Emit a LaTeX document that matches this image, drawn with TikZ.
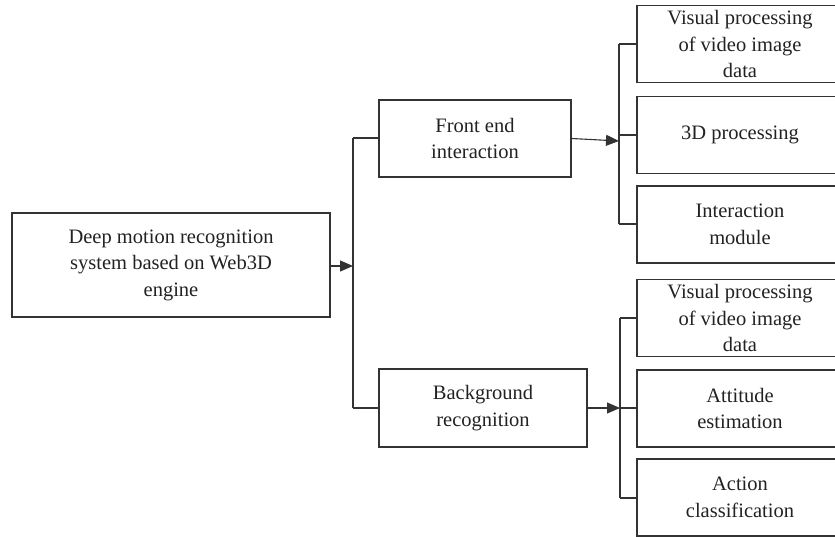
\documentclass[tikz,border=0pt]{standalone}
\usepackage{fontspec}
\setmainfont{Liberation Serif}
\usetikzlibrary{arrows.meta}
\definecolor{ink}{HTML}{333333}
\definecolor{txt}{HTML}{222222}
\begin{document}
\begin{tikzpicture}[x=1pt,y=-1pt,
  box/.style={draw=ink,line width=1.1pt,rectangle,align=center,font=\fontsize{20.5}{26.5}\selectfont,text=txt,inner sep=0pt},
  rbox/.style={box,minimum width=206pt,minimum height=77pt},
  conn/.style={draw=ink,line width=1.1pt},
  arr/.style={conn,-{Triangle[length=13pt,width=11pt]}}]
\useasboundingbox (0,0) rectangle (835,537);
\clip (0,0) rectangle (835,537);
\node[box,minimum width=318pt,minimum height=104pt] (main) at (171,265) {Deep motion recognition\\system based on Web3D\\engine};
\node[box,minimum width=192pt,minimum height=77pt] (fe) at (475,138.5) {Front end\\interaction};
\node[box,minimum width=208pt,minimum height=78pt] (bg) at (483,408) {Background\\recognition};
\node[rbox] (r1) at (740,44) {Visual processing\\of video image\\data};
\node[rbox] (r2) at (740,135) {3D processing};
\node[rbox] (r3) at (740,224.5) {Interaction\\module};
\node[rbox] (s1) at (740,318) {Visual processing\\of video image\\data};
\node[rbox] (s2) at (740,408.5) {Attitude\\estimation};
\node[rbox] (s3) at (740,497.5) {Action\\classification};
\coordinate (b1t) at (353,138);
\coordinate (b1b) at (353,408);
\coordinate (b1m) at (353,266);
\coordinate (b2t) at (619,44);
\coordinate (b2b) at (619,224);
\coordinate (b2m) at (619,141);
\coordinate (b3t) at (620,318);
\coordinate (b3b) at (620,498);
\coordinate (b3m) at (620,408);
\draw[arr] (main.east|-b1m) -- (b1m);
\draw[conn] (b1t) -- (b1b);
\draw[conn] (b1t) -- (fe.west|-b1t);
\draw[conn] (b1b) -- (bg.west|-b1b);
\draw[arr] (fe.east) -- (b2m);
\draw[conn] (b2t) -- (b2b);
\draw[conn] (b2t) -- (r1.west);
\draw[conn] (b2t|-r2.west) -- (r2.west);
\draw[conn] (b2b) -- (r3.west|-b2b);
\draw[arr] (bg.east) -- (b3m);
\draw[conn] (b3t) -- (b3b);
\draw[conn] (b3t) -- (s1.west);
\draw[conn] (b3m) -- (s2.west|-b3m);
\draw[conn] (b3b) -- (s3.west|-b3b);
\end{tikzpicture}
\end{document}
